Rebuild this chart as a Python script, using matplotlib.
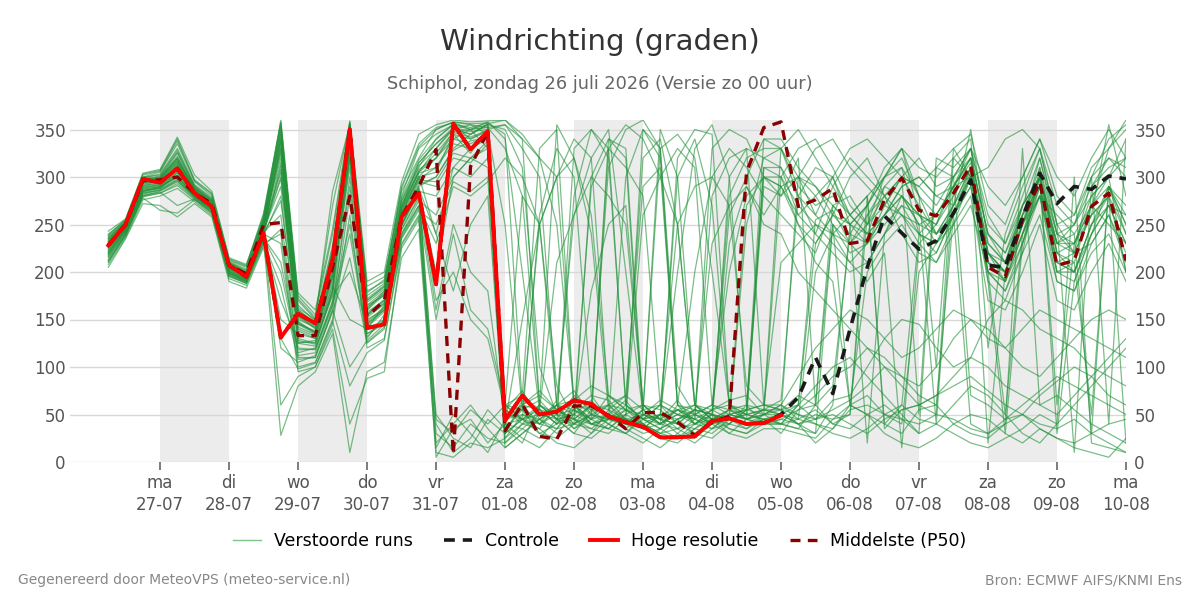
import pandas as pd
import matplotlib
matplotlib.use("Agg")
import matplotlib.pyplot as plt
from matplotlib.lines import Line2D

# ----- tijdas: 6-uurlijkse stappen vanaf zo 26-07 06 uur -----
times = pd.date_range("2026-07-26 06:00", periods=60, freq="6h")

# Hoge resolutie (loopt tot wo 05-08 00 uur)
hres = [228, 250, 298, 294, 309, 283, 269, 207, 195, 241,
        131, 156, 146, 213, 350, 141, 145, 258, 283, 187,
        356, 329, 348, 44, 70, 50, 53, 65, 61, 48,
        42, 37, 26, 26, 27, 43, 46, 40, 41, 49]

# Controle run
control = [228, 250, 298, 294, 309, 283, 269, 207, 195, 241,
           131, 156, 146, 213, 350, 141, 145, 258, 283, 187,
           356, 329, 348, 44, 70, 50, 53, 65, 61, 48,
           42, 37, 26, 26, 27, 43, 46, 40, 41, 50,
           68, 110, 72, 140, 205, 259, 241, 224, 233, 262,
           297, 207, 205, 258, 304, 272, 290, 287, 301, 298]

# Middelste (P50)
p50 = [228, 250, 296, 297, 300, 283, 272, 207, 198, 250,
       252, 133, 133, 205, 280, 153, 170, 258, 290, 329,
       8, 311, 348, 33, 61, 27, 24, 59, 59, 49,
       35, 52, 52, 42, 28, 42, 48, 305, 352, 358,
       269, 276, 288, 230, 233, 276, 299, 265, 259, 283,
       312, 205, 195, 255, 295, 207, 212, 269, 283, 212]

# Verstoorde runs, in drie stukken: 26-07..31-07, 31-07..05-08, 05-08..10-08
members_early = [
    [228, 249, 292, 296, 315, 286, 271, 206, 196, 244, 300, 148, 136, 205, 335, 158, 170, 265, 300],
    [220, 245, 285, 290, 300, 280, 268, 200, 192, 250, 320, 130, 125, 180, 345, 150, 160, 255, 290],
    [235, 252, 298, 300, 325, 290, 275, 210, 200, 255, 340, 160, 145, 220, 350, 170, 185, 275, 310],
    [215, 240, 280, 285, 295, 278, 265, 198, 190, 238, 280, 120, 118, 170, 320, 140, 150, 250, 285],
    [240, 255, 300, 305, 335, 295, 280, 212, 205, 258, 355, 170, 150, 285, 355, 180, 190, 285, 320],
    [225, 247, 288, 292, 310, 284, 270, 205, 194, 242, 260, 110, 110, 160, 300, 135, 145, 240, 275],
    [230, 250, 295, 300, 320, 288, 276, 208, 199, 250, 345, 140, 132, 195, 340, 165, 175, 270, 305],
    [210, 238, 278, 265, 262, 276, 262, 195, 188, 230, 240, 100, 105, 150, 280, 125, 140, 235, 265],
    [232, 251, 296, 298, 318, 287, 273, 207, 198, 248, 330, 155, 140, 210, 348, 160, 180, 268, 315],
    [222, 246, 286, 288, 305, 282, 267, 202, 193, 240, 230, 95, 100, 145, 260, 120, 130, 230, 260],
    [236, 253, 299, 303, 330, 292, 278, 211, 203, 256, 350, 175, 155, 240, 355, 185, 195, 280, 330],
    [218, 243, 283, 287, 298, 279, 266, 199, 191, 236, 200, 115, 120, 165, 240, 130, 155, 245, 280],
    [228, 249, 291, 294, 312, 285, 271, 206, 196, 246, 315, 145, 138, 200, 330, 155, 170, 262, 298],
    [212, 239, 281, 284, 270, 277, 263, 196, 189, 233, 170, 125, 128, 175, 200, 145, 160, 250, 290],
    [238, 254, 302, 306, 338, 296, 282, 213, 206, 260, 357, 165, 148, 225, 358, 175, 188, 290, 335],
    [226, 248, 289, 291, 308, 283, 269, 204, 195, 243, 150, 135, 130, 185, 150, 140, 165, 255, 285],
    [231, 250, 294, 297, 316, 286, 272, 207, 197, 247, 325, 150, 142, 212, 345, 162, 178, 266, 305],
    [216, 242, 282, 286, 296, 279, 265, 198, 190, 237, 120, 105, 112, 160, 100, 128, 145, 240, 270],
    [234, 252, 297, 299, 322, 289, 274, 209, 200, 252, 338, 158, 146, 218, 350, 168, 182, 272, 312],
    [224, 246, 287, 290, 304, 281, 268, 203, 193, 241, 60, 90, 100, 140, 40, 88, 95, 225, 255],
    [229, 249, 293, 295, 314, 285, 271, 206, 197, 245, 305, 145, 135, 198, 325, 155, 168, 262, 300],
    [219, 244, 284, 288, 300, 280, 266, 200, 191, 239, 340, 125, 122, 178, 338, 142, 158, 248, 284],
    [237, 253, 300, 302, 328, 291, 277, 210, 202, 254, 352, 162, 150, 228, 356, 172, 186, 278, 318],
    [213, 240, 279, 283, 293, 277, 264, 197, 189, 234, 28, 80, 95, 135, 10, 95, 105, 215, 245],
    [227, 248, 290, 293, 311, 284, 270, 205, 196, 244, 290, 142, 134, 192, 318, 152, 166, 258, 295],
    [221, 245, 285, 289, 302, 281, 267, 201, 192, 240, 335, 128, 124, 182, 342, 146, 162, 250, 288],
    [233, 251, 297, 299, 320, 288, 274, 208, 199, 251, 348, 155, 144, 215, 352, 165, 180, 270, 308],
    [208, 236, 276, 280, 288, 274, 260, 193, 186, 228, 245, 112, 115, 165, 290, 135, 148, 238, 270],
    [239, 255, 303, 307, 340, 297, 283, 214, 207, 262, 358, 172, 152, 270, 357, 178, 192, 288, 332],
    [223, 246, 287, 290, 306, 282, 268, 203, 194, 241, 275, 138, 130, 188, 310, 148, 163, 255, 292],
    [230, 250, 294, 297, 317, 287, 273, 207, 198, 249, 328, 152, 141, 208, 343, 160, 176, 266, 304],
    [217, 242, 283, 286, 297, 279, 265, 199, 190, 236, 210, 118, 119, 168, 250, 132, 150, 244, 278],
    [235, 252, 298, 301, 326, 290, 276, 209, 201, 253, 344, 160, 147, 222, 349, 170, 184, 275, 315],
    [211, 239, 280, 283, 291, 276, 262, 196, 188, 232, 185, 108, 110, 158, 215, 126, 142, 236, 268],
    [226, 247, 289, 292, 309, 283, 269, 204, 195, 243, 298, 146, 137, 196, 322, 154, 167, 260, 297],
    [243, 256, 304, 308, 342, 302, 285, 215, 208, 257, 360, 178, 160, 245, 359, 190, 200, 295, 345],
    [205, 235, 272, 270, 258, 272, 258, 190, 183, 226, 130, 98, 104, 148, 80, 115, 128, 228, 258],
    [232, 251, 295, 298, 319, 287, 273, 208, 199, 250, 332, 153, 143, 210, 346, 163, 177, 268, 306],
    [220, 244, 285, 289, 301, 280, 267, 201, 192, 239, 312, 126, 126, 180, 332, 144, 160, 249, 286],
    [227, 249, 291, 294, 313, 285, 270, 205, 196, 245, 308, 147, 136, 202, 327, 156, 171, 263, 301],
]

members_mid = [
    [320, 340, 350, 330, 45, 50, 40, 35, 60, 55, 50, 45, 40, 30, 35, 40, 45, 50, 55, 60],
    [300, 330, 345, 355, 30, 65, 55, 40, 45, 60, 55, 35, 50, 45, 40, 30, 45, 55, 50, 45],
    [340, 355, 340, 350, 20, 40, 60, 50, 35, 45, 70, 60, 45, 35, 25, 40, 50, 45, 40, 50],
    [280, 310, 300, 320, 55, 75, 45, 30, 50, 65, 45, 40, 55, 60, 50, 45, 35, 40, 60, 55],
    [350, 358, 355, 352, 355, 330, 300, 60, 40, 50, 340, 320, 45, 35, 60, 200, 300, 330, 310, 280],
    [260, 300, 320, 310, 40, 35, 25, 45, 70, 55, 40, 30, 45, 50, 35, 25, 40, 55, 45, 40],
    [330, 350, 345, 355, 60, 280, 250, 80, 45, 30, 55, 70, 290, 310, 60, 40, 50, 230, 290, 260],
    [250, 295, 285, 300, 15, 30, 45, 55, 40, 35, 50, 65, 40, 30, 45, 55, 50, 35, 30, 45],
    [335, 350, 355, 345, 35, 55, 65, 45, 50, 40, 35, 50, 60, 55, 40, 35, 30, 45, 50, 55],
    [5, 35, 45, 20, 40, 25, 15, 35, 55, 45, 60, 70, 55, 40, 35, 50, 40, 30, 45, 50],
    [345, 355, 350, 358, 340, 200, 55, 40, 330, 350, 320, 60, 45, 50, 300, 340, 270, 60, 45, 55],
    [50, 25, 15, 45, 30, 60, 75, 55, 45, 35, 30, 45, 50, 40, 55, 60, 45, 35, 30, 40],
    [310, 335, 330, 340, 60, 45, 30, 40, 55, 70, 65, 45, 35, 40, 50, 60, 55, 45, 35, 50],
    [40, 10, 25, 55, 35, 20, 60, 45, 30, 25, 40, 55, 60, 45, 30, 20, 35, 50, 45, 40],
    [352, 357, 350, 355, 350, 310, 100, 50, 45, 60, 310, 350, 360, 330, 80, 50, 40, 300, 330, 320],
    [15, 50, 30, 10, 45, 55, 30, 25, 40, 60, 50, 35, 25, 15, 30, 45, 55, 60, 50, 55],
    [320, 345, 340, 348, 250, 55, 40, 65, 260, 320, 350, 200, 50, 45, 65, 40, 55, 260, 300, 340],
    [20, 40, 60, 35, 15, 30, 45, 60, 75, 50, 40, 30, 20, 35, 45, 55, 50, 40, 35, 45],
    [330, 352, 345, 356, 360, 340, 60, 45, 50, 290, 330, 310, 280, 60, 40, 55, 50, 45, 250, 320],
    [30, 15, 40, 25, 20, 35, 50, 45, 30, 55, 60, 40, 35, 50, 45, 30, 25, 40, 55, 60],
    [305, 345, 325, 350, 25, 50, 45, 35, 40, 50, 60, 55, 40, 30, 25, 35, 50, 45, 40, 45],
    [200, 300, 320, 330, 55, 45, 260, 330, 300, 70, 45, 40, 55, 350, 300, 60, 45, 40, 55, 300],
    [340, 356, 352, 357, 30, 45, 60, 355, 320, 240, 55, 45, 40, 50, 200, 330, 355, 300, 60, 40],
    [10, 5, 20, 15, 25, 40, 35, 20, 15, 30, 45, 50, 40, 25, 20, 35, 45, 30, 25, 35],
    [290, 320, 315, 335, 50, 60, 70, 55, 45, 40, 35, 30, 50, 65, 55, 45, 40, 50, 55, 50],
    [240, 310, 330, 350, 40, 70, 330, 350, 60, 40, 45, 300, 350, 320, 60, 50, 45, 55, 60, 310],
    [320, 348, 350, 352, 330, 280, 60, 45, 40, 300, 340, 330, 55, 40, 50, 45, 280, 320, 330, 60],
    [230, 290, 280, 295, 320, 300, 250, 60, 35, 50, 45, 60, 320, 340, 250, 60, 45, 50, 270, 300],
    [350, 358, 356, 357, 345, 60, 40, 50, 55, 45, 330, 355, 340, 300, 250, 60, 50, 280, 320, 330],
    [300, 328, 338, 342, 40, 45, 35, 60, 65, 50, 45, 40, 30, 35, 45, 50, 60, 55, 45, 50],
    [310, 340, 335, 345, 45, 60, 55, 50, 280, 350, 330, 60, 45, 40, 55, 50, 60, 200, 280, 300],
    [160, 250, 200, 180, 40, 150, 250, 300, 320, 260, 70, 55, 45, 60, 250, 290, 300, 270, 80, 60],
    [335, 352, 348, 350, 355, 340, 320, 250, 60, 45, 50, 40, 55, 330, 345, 320, 200, 60, 55, 340],
    [150, 240, 160, 140, 60, 45, 55, 210, 260, 300, 280, 250, 60, 45, 40, 55, 230, 270, 290, 250],
    [295, 325, 320, 338, 50, 45, 40, 55, 60, 45, 35, 50, 260, 300, 330, 310, 60, 50, 45, 55],
    [355, 360, 358, 359, 360, 345, 320, 300, 60, 40, 45, 55, 50, 40, 320, 350, 345, 60, 50, 45],
    [45, 30, 55, 40, 60, 70, 55, 40, 65, 80, 70, 55, 45, 60, 50, 40, 55, 65, 70, 50],
    [325, 347, 342, 349, 60, 55, 250, 300, 340, 320, 60, 45, 35, 50, 55, 45, 330, 350, 340, 300],
    [170, 200, 150, 130, 55, 40, 45, 60, 50, 180, 250, 270, 60, 45, 55, 40, 35, 50, 45, 310],
    [240, 180, 250, 280, 30, 45, 50, 60, 55, 40, 50, 45, 350, 330, 60, 55, 40, 45, 50, 290],
]

members_late = [
    [210, 230, 250, 240, 260, 280, 40, 60, 240, 260, 290, 300, 220, 210, 250, 280, 260, 240, 270, 250, 230],
    [50, 40, 30, 60, 250, 270, 300, 320, 280, 240, 260, 310, 200, 180, 230, 300, 210, 200, 250, 290, 240],
    [60, 45, 55, 40, 35, 50, 60, 45, 30, 310, 300, 70, 60, 45, 50, 40, 35, 45, 30, 20, 10],
    [330, 300, 280, 250, 220, 230, 260, 290, 300, 280, 270, 350, 230, 210, 260, 310, 240, 230, 260, 355, 280],
    [260, 240, 220, 270, 280, 250, 300, 330, 260, 230, 250, 300, 200, 50, 240, 290, 200, 210, 270, 330, 350],
    [40, 60, 255, 265, 230, 210, 240, 280, 250, 260, 290, 320, 190, 170, 220, 310, 220, 230, 280, 300, 200],
    [290, 250, 230, 260, 300, 320, 280, 240, 210, 220, 260, 305, 230, 210, 270, 300, 30, 190, 240, 270, 260],
    [30, 55, 70, 90, 100, 120, 110, 90, 80, 100, 130, 150, 140, 120, 100, 90, 110, 130, 150, 160, 150],
    [55, 70, 60, 250, 230, 260, 280, 300, 290, 270, 300, 330, 220, 200, 250, 320, 240, 220, 300, 340, 355],
    [60, 50, 45, 65, 70, 100, 130, 150, 145, 120, 100, 110, 150, 170, 160, 140, 130, 120, 100, 90, 80],
    [65, 280, 310, 300, 260, 240, 290, 310, 240, 220, 260, 300, 210, 200, 270, 300, 230, 240, 30, 290, 250],
    [45, 40, 20, 35, 60, 50, 40, 30, 55, 60, 40, 30, 25, 40, 330, 60, 70, 55, 40, 30, 20],
    [300, 330, 340, 310, 270, 250, 280, 300, 320, 290, 300, 330, 260, 230, 280, 330, 250, 10, 290, 320, 300],
    [40, 35, 60, 80, 240, 230, 250, 270, 260, 240, 270, 310, 200, 190, 240, 280, 210, 220, 260, 280, 240],
    [330, 280, 260, 300, 250, 20, 240, 260, 230, 250, 300, 320, 240, 220, 260, 290, 230, 250, 280, 300, 320],
    [50, 45, 40, 35, 55, 60, 50, 45, 40, 50, 320, 300, 310, 340, 350, 330, 250, 220, 230, 260, 220],
    [340, 310, 290, 260, 240, 270, 310, 330, 280, 100, 330, 300, 210, 190, 230, 290, 210, 200, 250, 270, 230],
    [40, 35, 30, 250, 60, 50, 30, 20, 15, 25, 40, 50, 45, 30, 20, 35, 25, 15, 10, 5, 25],
    [310, 260, 240, 290, 320, 300, 280, 260, 250, 40, 290, 320, 240, 220, 270, 300, 220, 200, 240, 290, 270],
    [55, 60, 45, 50, 40, 30, 45, 55, 60, 70, 80, 90, 75, 60, 50, 70, 85, 100, 90, 70, 60],
    [40, 45, 200, 240, 230, 250, 270, 260, 240, 230, 270, 300, 210, 200, 260, 300, 60, 230, 270, 290, 250],
    [290, 260, 280, 300, 330, 340, 320, 300, 290, 310, 330, 345, 270, 250, 300, 340, 280, 260, 310, 330, 360],
    [45, 55, 60, 40, 50, 260, 290, 280, 260, 250, 280, 310, 220, 200, 240, 300, 230, 220, 260, 280, 200],
    [35, 30, 25, 45, 50, 280, 35, 55, 60, 50, 45, 35, 30, 40, 50, 35, 25, 20, 30, 40, 45],
    [50, 60, 230, 260, 250, 270, 300, 310, 280, 260, 290, 330, 250, 230, 270, 320, 250, 260, 300, 40, 340],
    [310, 280, 240, 220, 200, 210, 240, 270, 240, 230, 260, 290, 190, 30, 230, 280, 190, 180, 230, 260, 210],
    [55, 40, 50, 45, 60, 70, 50, 40, 200, 230, 260, 300, 220, 200, 250, 290, 200, 190, 240, 270, 230],
    [300, 250, 210, 190, 60, 200, 230, 250, 220, 210, 250, 280, 170, 160, 200, 250, 170, 160, 200, 230, 190],
    [330, 350, 320, 290, 260, 280, 300, 330, 310, 300, 320, 340, 120, 240, 290, 330, 270, 250, 300, 320, 310],
    [55, 50, 40, 30, 25, 35, 50, 60, 45, 40, 30, 20, 15, 25, 35, 50, 40, 300, 20, 15, 10],
    [290, 300, 260, 240, 210, 230, 270, 300, 270, 240, 270, 310, 20, 200, 250, 300, 240, 250, 290, 310, 320],
    [60, 90, 120, 140, 160, 150, 130, 110, 120, 140, 160, 150, 130, 120, 140, 160, 150, 140, 130, 120, 110],
    [330, 290, 270, 280, 260, 240, 260, 280, 260, 250, 290, 315, 220, 190, 250, 300, 220, 210, 50, 290, 260],
    [240, 200, 180, 160, 140, 120, 100, 80, 60, 70, 90, 110, 100, 80, 70, 60, 50, 70, 90, 110, 130],
    [50, 40, 45, 55, 65, 80, 100, 90, 70, 60, 260, 40, 30, 45, 60, 75, 90, 80, 70, 60, 50],
    [50, 300, 330, 340, 310, 290, 270, 300, 50, 320, 310, 330, 290, 270, 300, 340, 300, 280, 320, 350, 320],
    [40, 60, 80, 100, 110, 90, 70, 50, 30, 40, 60, 80, 70, 50, 30, 20, 40, 60, 80, 100, 120],
    [280, 320, 60, 270, 250, 230, 260, 290, 300, 280, 290, 320, 240, 210, 260, 300, 230, 230, 270, 300, 340],
    [300, 270, 250, 230, 210, 190, 220, 15, 230, 210, 240, 270, 200, 180, 220, 260, 190, 180, 220, 240, 200],
    [280, 300, 290, 270, 250, 240, 260, 280, 250, 240, 260, 290, 210, 190, 240, 280, 200, 200, 250, 280, 20],
]

# Dagen op de x-as en gearceerde dagen
tick_days = pd.date_range("2026-07-27", "2026-08-10", freq="D")
tick_labels = ["ma\n27-07", "di\n28-07", "wo\n29-07", "do\n30-07", "vr\n31-07",
               "za\n01-08", "zo\n02-08", "ma\n03-08", "di\n04-08", "wo\n05-08",
               "do\n06-08", "vr\n07-08", "za\n08-08", "zo\n09-08", "ma\n10-08"]
shaded_days = ["2026-07-27", "2026-07-29", "2026-07-31", "2026-08-02",
               "2026-08-04", "2026-08-06", "2026-08-08"]
yticks = [0, 50, 100, 150, 200, 250, 300, 350]

# ----- Plot -----
fig = plt.figure(figsize=(12, 6), dpi=100)
ax = fig.add_axes([70 / 1200, 138 / 600, 1056 / 1200, 342 / 600])

for d in shaded_days:
    start = pd.Timestamp(d)
    ax.axvspan(start, start + pd.Timedelta(days=1), color="#ececec", lw=0, zorder=0)

green = "#23923a"
for e, m, l in zip(members_early, members_mid, members_late):
    ax.plot(times, e + m + l, color=green, lw=0.9, alpha=0.6, zorder=2)

ax.plot(times, p50, color="#8b0000", lw=2.4, ls=(0, (3, 2.2)), zorder=3)
ax.plot(times, control, color="#1a1a1a", lw=2.6, ls=(0, (3, 2.2)), zorder=4)
ax.plot(times[:len(hres)], hres, color="#ff0000", lw=2.8, zorder=5)

ax.set_xlim(pd.Timestamp("2026-07-25 16:40"), pd.Timestamp("2026-08-10 00:00"))
ax.set_ylim(0, 360)
ax.set_xticks(tick_days)
ax.set_xticklabels(tick_labels, linespacing=1.25)
ax.set_yticks(yticks)
ax.grid(axis="y", color="#d8d8d8", lw=1)
ax.set_axisbelow(True)
ax.tick_params(axis="x", length=6, width=1.2, color="#666666", labelcolor="#555555",
               labelsize=12, pad=3)
ax.tick_params(axis="y", length=0, labelcolor="#555555", labelsize=12, pad=3)
for s in ax.spines.values():
    s.set_visible(False)

ax2 = ax.twinx()
ax2.set_ylim(0, 360)
ax2.set_yticks(yticks)
ax2.tick_params(axis="y", length=0, labelcolor="#555555", labelsize=12, pad=6)
for s in ax2.spines.values():
    s.set_visible(False)

# Titels
fig.text(0.5, 1 - 42 / 600, "Windrichting (graden)", ha="center", va="center",
         fontsize=21, color="#333333")
fig.text(0.5, 1 - 84 / 600, "Schiphol, zondag 26 juli 2026 (Versie zo 00 uur)",
         ha="center", va="center", fontsize=12.75, color="#666666")

# Legenda
handles = [
    Line2D([], [], color="#7cc48a", lw=1),
    Line2D([], [], color="#1a1a1a", lw=2.6, ls=(0, (3, 2.2))),
    Line2D([], [], color="#ff0000", lw=2.8),
    Line2D([], [], color="#8b0000", lw=2.4, ls=(0, (3, 2.2))),
]
labels = ["Verstoorde runs", "Controle", "Hoge resolutie", "Middelste (P50)"]
fig.legend(handles, labels, loc="center", bbox_to_anchor=(0.5, 1 - 541 / 600), ncol=4,
           frameon=False, fontsize=12.5, handlelength=1.6, handletextpad=0.75,
           columnspacing=1.8)

# Voetteksten
fig.text(18 / 1200, 1 - 580 / 600, "Gegenereerd door MeteoVPS (meteo-service.nl)",
         ha="left", va="center", fontsize=10, color="#888888")
fig.text(1182 / 1200, 1 - 580 / 600, "Bron: ECMWF AIFS/KNMI Ens",
         ha="right", va="center", fontsize=10, color="#888888")

fig.savefig("out.png", dpi=100)
